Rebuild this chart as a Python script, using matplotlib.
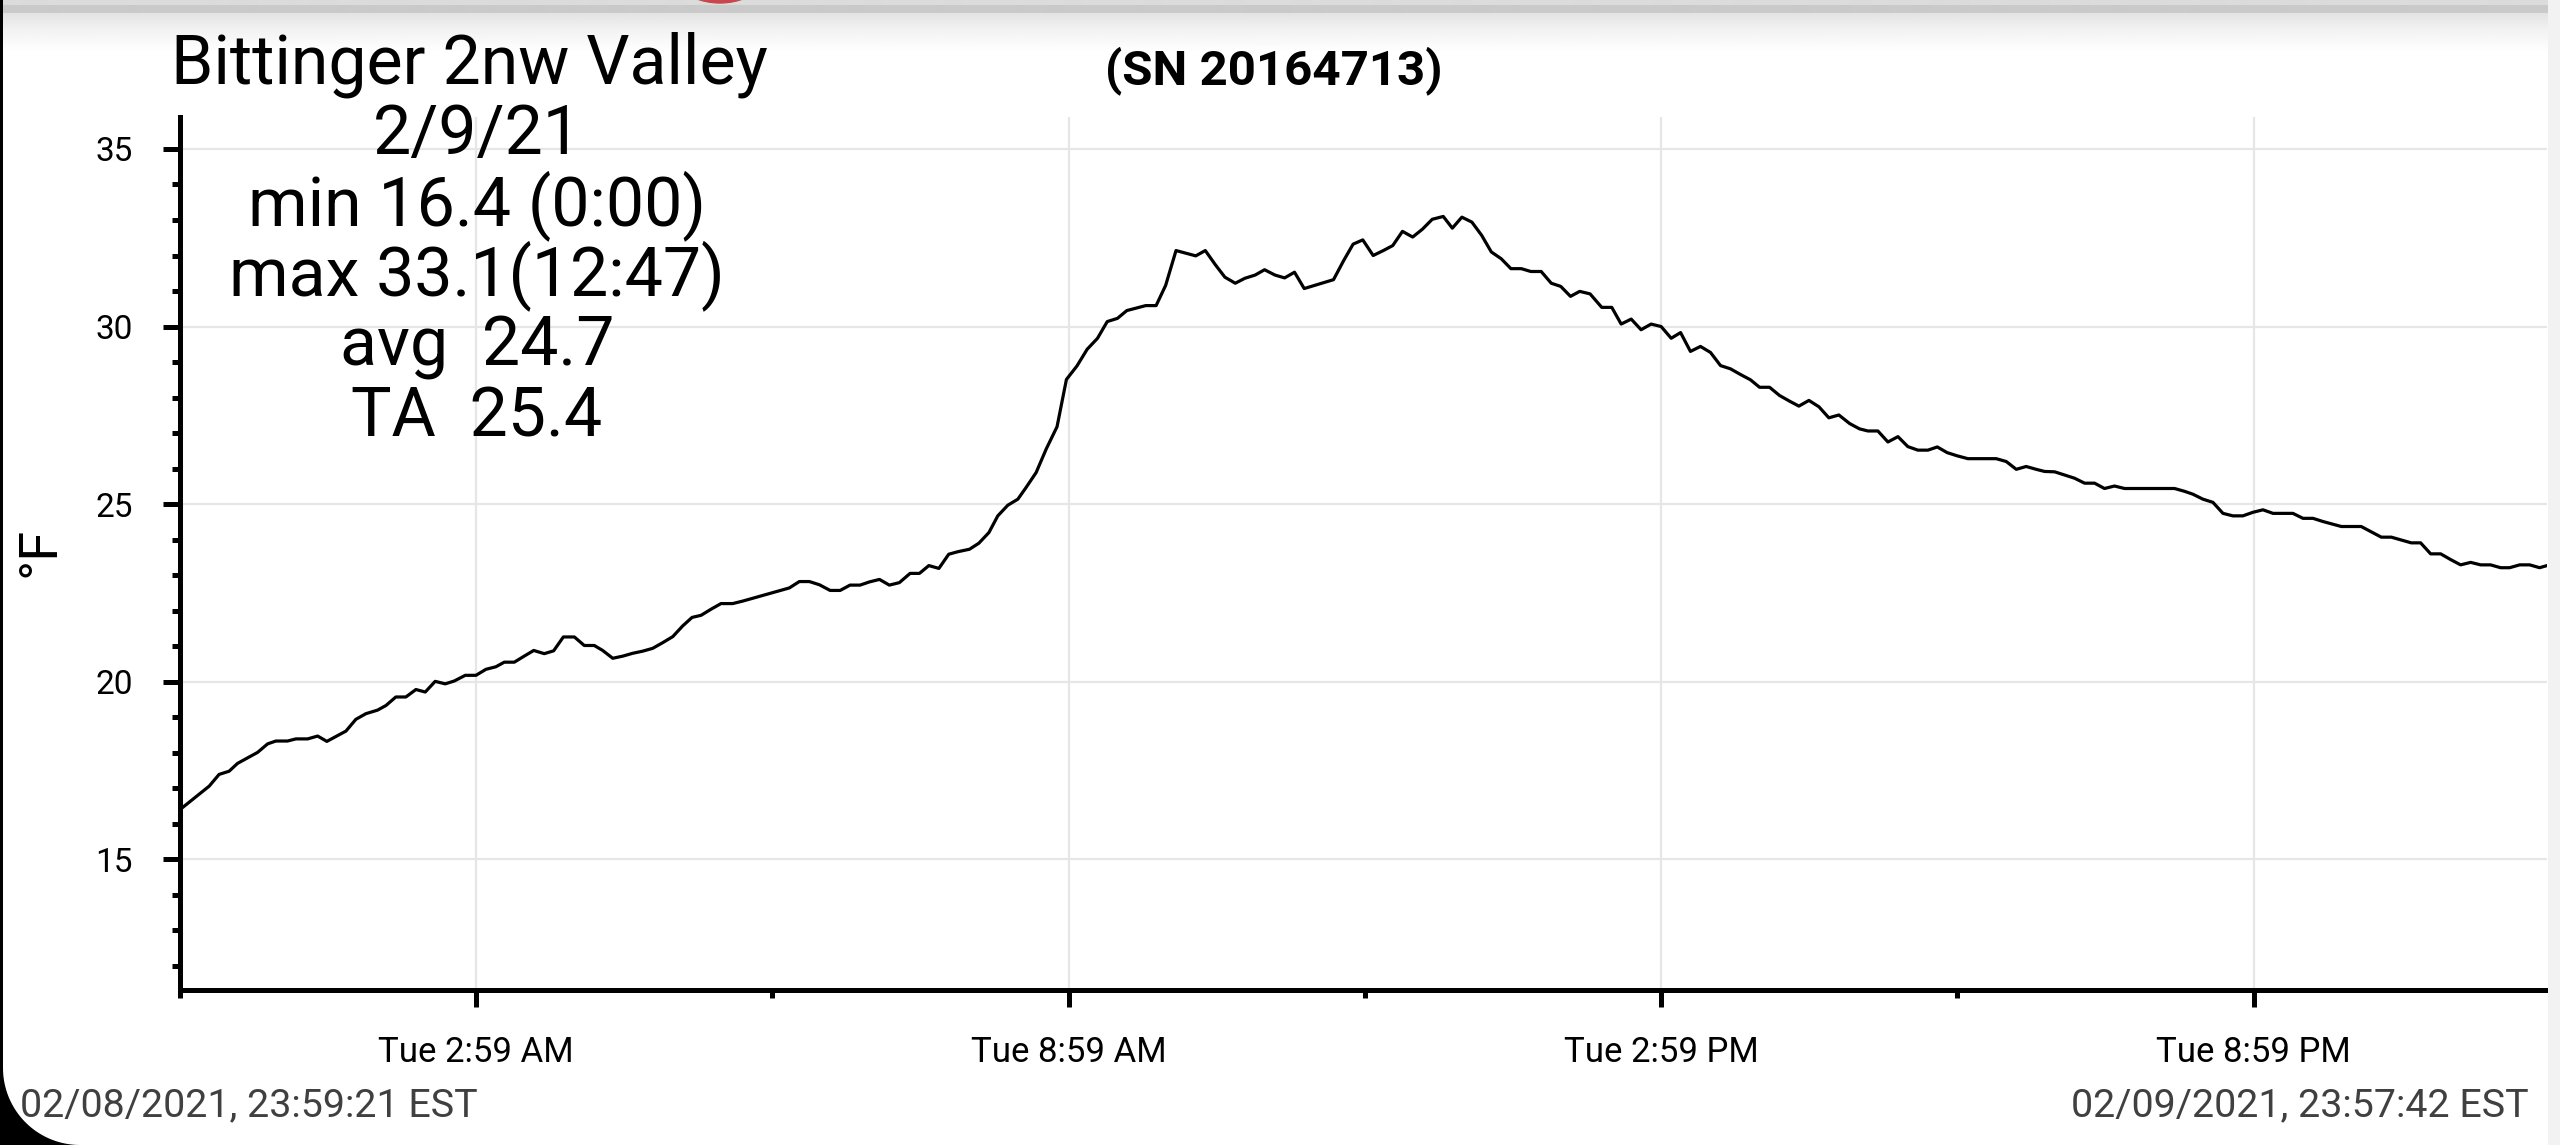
import matplotlib.pyplot as plt
import matplotlib.patches as mpatches
import numpy as np

plt.rcParams['font.family'] = ['Roboto', 'DejaVu Sans']

W, H = 2560, 1145

# minutes after midnight on 2/9/21, temperature in deg F
minutes = [-0.65, 17.1, 23.1, 29.2, 34.3, 46.5, 52.6, 57.6, 64.7, 69.8, 76.9, 83.0, 88.6,
           100.2, 106.2, 112.3, 119.4, 124.5, 130.5, 136.6, 142.7, 148.4, 154.4, 160.5,
           166.0, 172.7, 179.2, 185.3, 191.3, 196.4, 202.5, 208.5, 214.3, 220.7, 226.4,
           232.3, 239.0, 245.0, 251.1, 256.2, 262.3, 268.4, 274.4, 280.5, 286.6, 292.7,
           298.8, 304.8, 310.5, 316.0, 322.0, 328.1, 335.2, 341.3, 369.6, 375.7, 381.8,
           387.9, 394.4, 400.5, 406.5, 412.6, 418.3, 424.4, 430.4, 436.5, 443.0, 448.7,
           454.4, 460.5, 466.5, 472.0, 479.1, 484.8, 490.9, 496.3, 502.4, 508.5, 513.5,
           519.6, 525.7, 532.3, 538.0, 544.4, 550.6, 556.9, 562.8, 569.0, 574.7, 586.2,
           592.5, 598.3, 604.6, 616.6, 622.4, 628.5, 634.3, 640.6, 646.5, 652.7, 658.4,
           664.7, 670.6, 676.6, 682.5, 700.3, 706.5, 712.2, 718.1, 724.4, 730.6, 736.3,
           742.2, 748.4, 754.3, 760.3, 767.0, 772.5, 778.3, 784.4, 790.3, 796.2, 802.2,
           808.1, 814.4, 820.2, 826.5, 832.6, 838.4, 844.3, 849.9, 856.2, 863.3, 869.4,
           875.1, 881.2, 887.2, 893.3, 899.4, 905.5, 911.2, 917.2, 923.3, 929.4, 935.5,
           941.5, 947.6, 953.7, 959.2, 965.3, 971.3, 977.4, 983.1, 989.2, 995.3, 1001.3,
           1007.4, 1013.9, 1019.9, 1025.0, 1031.1, 1037.2, 1043.3, 1049.3, 1055.4, 1061.5,
           1067.2, 1073.2, 1079.3, 1085.8, 1103.0, 1109.1, 1115.2, 1121.2, 1127.3, 1132.4,
           1138.5, 1144.5, 1150.6, 1156.7, 1162.8, 1168.8, 1174.9, 1181.0, 1211.4, 1217.5,
           1222.5, 1228.6, 1234.7, 1240.8, 1246.8, 1252.9, 1259.0, 1265.1, 1271.2, 1283.3,
           1289.4, 1295.5, 1301.6, 1312.7, 1324.8, 1330.9, 1337.0, 1343.1, 1349.2, 1355.2,
           1360.9, 1367.0, 1373.1, 1379.1, 1385.2, 1391.3, 1397.4, 1403.4, 1409.5, 1415.0,
           1421.1, 1427.2, 1433.2, 1437.7]
temps_f = [16.40, 17.06, 17.39, 17.48, 17.70, 18.01, 18.25, 18.33, 18.33, 18.39, 18.39, 18.47, 18.32,
           18.61, 18.94, 19.10, 19.20, 19.33, 19.57, 19.57, 19.78, 19.71, 20.01, 19.94,
           20.02, 20.18, 20.18, 20.35, 20.42, 20.55, 20.55, 20.72, 20.88, 20.79, 20.87,
           21.26, 21.26, 21.02, 21.02, 20.88, 20.66, 20.72, 20.80, 20.86, 20.94, 21.10,
           21.27, 21.57, 21.81, 21.87, 22.04, 22.20, 22.20, 22.27, 22.64, 22.82, 22.82,
           22.73, 22.57, 22.57, 22.72, 22.72, 22.81, 22.88, 22.72, 22.79, 23.05, 23.05,
           23.27, 23.19, 23.59, 23.66, 23.73, 23.90, 24.20, 24.67, 24.97, 25.14, 25.47,
           25.89, 26.55, 27.18, 28.51, 28.89, 29.36, 29.67, 30.14, 30.23, 30.45, 30.59,
           30.59, 31.16, 32.14, 31.99, 32.14, 31.74, 31.39, 31.22, 31.36, 31.45, 31.60,
           31.45, 31.37, 31.53, 31.07, 31.32, 31.86, 32.32, 32.44, 32.00, 32.14, 32.28,
           32.68, 32.52, 32.74, 33.02, 33.10, 32.77, 33.08, 32.94, 32.57, 32.10, 31.91,
           31.63, 31.63, 31.55, 31.55, 31.22, 31.13, 30.85, 30.99, 30.92, 30.54, 30.54,
           30.07, 30.21, 29.91, 30.07, 30.00, 29.67, 29.83, 29.30, 29.44, 29.27, 28.90,
           28.81, 28.65, 28.50, 28.29, 28.29, 28.06, 27.90, 27.76, 27.92, 27.74, 27.43,
           27.51, 27.27, 27.12, 27.06, 27.06, 26.75, 26.90, 26.62, 26.52, 26.52,
           26.61, 26.45, 26.36, 26.28, 26.28, 26.20, 25.98, 26.06, 25.98, 25.92,
           25.91, 25.82, 25.73, 25.59, 25.59, 25.44, 25.51, 25.44, 25.44, 25.36,
           25.28, 25.14, 25.05, 24.74, 24.67, 24.67, 24.77, 24.84, 24.74, 24.74,
           24.60, 24.60, 24.51, 24.37, 24.37, 24.22, 24.07, 24.07, 23.99, 23.91,
           23.91, 23.60, 23.60, 23.44, 23.29, 23.36, 23.29, 23.29, 23.21, 23.21,
           23.29, 23.29, 23.21, 23.27]

start_min = -39 / 60
end_min = 23 * 60 + 57 + 42 / 60
tick_labels = ['Tue 2:59 AM', 'Tue 8:59 AM', 'Tue 2:59 PM', 'Tue 8:59 PM']
y_major = [15, 20, 25, 30, 35]
info_lines = ['Bittinger 2nw Valley', '2/9/21', 'min 16.4 (0:00)',
              'max 33.1(12:47)', 'avg  24.7', 'TA  25.4']
serial = '(SN 20164713)'
start_label = '02/08/2021, 23:59:21 EST'
end_label = '02/09/2021, 23:57:42 EST'


def fx(x):
    return x / W


def fy(y):
    return 1 - y / H


fig = plt.figure(figsize=(W / 100, H / 100), dpi=100)
fig.patch.set_facecolor('white')

# screenshot chrome: shaded bar at top, grey strip on right, dark frame bottom-left
band = fig.add_axes([0, fy(60), fx(2548), 60 / H], zorder=-1)
rows = np.arange(60)
shade = np.interp(rows, [0, 4, 5, 12, 13, 30, 52, 60], [0.86, 0.86, 0.79, 0.79, 0.89, 0.95, 1, 1])
band.imshow(shade[:, None], cmap='gray', vmin=0, vmax=1, aspect='auto', interpolation='bilinear')
band.axis('off')
fig.add_artist(mpatches.Ellipse((fx(720), fy(-65)), 2 * 68 / W, 2 * 68 / H,
                                transform=fig.transFigure, color='#c9464c'))
fig.add_artist(mpatches.Rectangle((fx(2548), 0), 12 / W, 1, transform=fig.transFigure,
                                  color='#f2f2f2', lw=0))
fig.add_artist(mpatches.Rectangle((0, 0), 2.5 / W, 1, transform=fig.transFigure,
                                  color='black', lw=0))
r = 77
cx, cy = 3 + r, H - r
theta = np.linspace(np.pi, np.pi / 2, 40)
corner = [(0, H - r)] + [(cx + r * np.cos(t), cy + r * np.sin(t)) for t in theta] + [(0, H)]
fig.add_artist(mpatches.Polygon([(fx(a), fy(b)) for a, b in corner], closed=True,
                                transform=fig.transFigure, color='black', lw=0))

ax = fig.add_axes([fx(180), fy(990), fx(2547) - fx(180), fy(117) - fy(990)])
ax.plot(minutes, temps_f, color='black', lw=2.3, zorder=3)
ax.set_xlim(start_min, end_min)
ax.set_ylim(11.32, 35.9)

ax.set_xticks([start_min + 180 * k for k in (1, 3, 5, 7)])
ax.set_xticklabels(tick_labels)
ax.set_xticks([start_min + 180 * k for k in (0, 2, 4, 6)], minor=True)
ax.set_yticks(y_major)
ax.set_yticks(range(12, 36), minor=True)

ax.grid(True, which='major', color='#e6e6e6', lw=1.6)
ax.set_axisbelow(True)
for side in ['top', 'right']:
    ax.spines[side].set_visible(False)
for side in ['left', 'bottom']:
    ax.spines[side].set_linewidth(3.6)

ax.tick_params(which='major', length=12, width=3.6, direction='out', colors='black')
ax.tick_params(which='minor', length=6, width=3.6, direction='out')
ax.tick_params(axis='x', which='major', labelsize=25, pad=21)
ax.tick_params(axis='y', which='major', labelsize=24, pad=22)

fig.text(fx(40), fy(552), '°F', rotation=90, ha='center', va='center', fontsize=39)

# station name sits a little left of the centred summary lines
for i, line in enumerate(info_lines):
    x_center = 469 if i == 0 else 477
    fig.text(fx(x_center), fy(84 + 70.5 * i), line, ha='center', va='baseline', fontsize=49)
fig.text(fx(1274), fy(84), serial, ha='center', va='baseline', fontsize=35.5, fontweight='bold')

fig.text(fx(20), fy(1116), start_label, ha='left', va='baseline', fontsize=28.4, color='#404040')
fig.text(fx(2529), fy(1116), end_label, ha='right', va='baseline', fontsize=28.4, color='#404040')

fig.savefig('out.png', dpi=100)
